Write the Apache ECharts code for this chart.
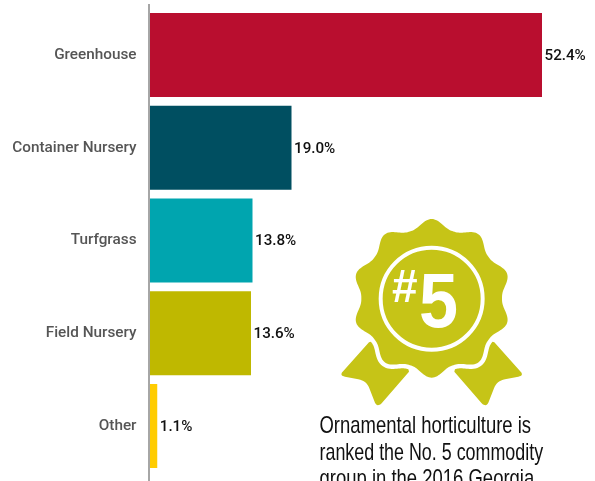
<!DOCTYPE html>
<html><head><meta charset="utf-8">
<style>html,body{margin:0;padding:0;background:#fff}#c{width:595px;height:481px}</style>
<script src="https://cdn.jsdelivr.net/npm/echarts@6/dist/echarts.min.js"></script>
</head><body><div id="c"></div>
<script>
const categories = ['Greenhouse','Container Nursery','Turfgrass','Field Nursery','Other'];
const shares = [52.4,19.0,13.8,13.6,1.1];
const barColors = ['#B90E2F','#004F61','#00A5AF','#BFB800','#FFCC00'];
const calloutLines = ['Ornamental horticulture is','ranked the No. 5 commodity','group in the 2016 Georgia'];
const calloutSqueeze = [0.77,0.745,0.77];
const badgeColor = '#C6C417';
const sans = '"Liberation Sans",sans-serif';

function badgePoints(){
  const pts=[];
  for(let i=0;i<360;i++){
    const t=i*Math.PI/180, r=211+27*Math.pow((1+Math.cos(10*t))/2,1.3);
    pts.push([395+r*Math.sin(t),295-r*Math.cos(t)]);
  }
  return pts;
}
function quad(a,c,b){const o=[];for(let k=0;k<=8;k++){const u=k/8,v=1-u;
  o.push([v*v*a[0]+2*u*v*c[0]+u*u*b[0],v*v*a[1]+2*u*v*c[1]+u*u*b[1]]);}return o;}
const ribbonL=[[207,427],...quad([128,515],[118,527],[135,530]),...quad([175,538],[200,542],[208,565]),
  ...quad([225,608],[232,622],[245,610]),[327,515],[300,400]];
const ribbonR=ribbonL.map(p=>[790-p[0],p[1]]);

const chart = echarts.init(document.getElementById('c'),null,{renderer:'canvas'});
chart.setOption({
  animation:false,
  grid:{left:149,top:8.6,right:1,height:463.75},
  xAxis:{type:'value',min:0,max:445/7.5,show:false},
  yAxis:{type:'category',data:categories,inverse:true,
    axisLine:{show:false},axisTick:{show:false},
    axisLabel:{margin:12.5,fontFamily:'Roboto',fontWeight:500,fontSize:15.3,color:'#555555',padding:[4,0,0,0]}},
  series:[{type:'bar',barWidth:84,
    data:shares.map((v,i)=>({value:v,itemStyle:{color:barColors[i]}})),
    label:{show:true,position:'right',distance:2.5,offset:[0,1],formatter:p=>p.value.toFixed(1)+'%',
      fontFamily:'Roboto',fontWeight:500,fontSize:15.2,color:'#111111'}}],
  graphic:[
    {type:'line',z:10,shape:{x1:149,y1:4,x2:149,y2:481},style:{stroke:'#A6A6A6',lineWidth:2}},
    {type:'group',x:300,y:200,scaleX:1/3,scaleY:1/3,z:5,children:[
      {type:'polygon',shape:{points:ribbonL},style:{fill:badgeColor},z:1},
      {type:'polygon',shape:{points:ribbonR},style:{fill:badgeColor},z:1},
      {type:'polygon',shape:{points:badgePoints()},style:{fill:badgeColor,stroke:'#fff',lineWidth:26},z:2},
      {type:'polygon',shape:{points:badgePoints()},style:{fill:badgeColor},z:3},
      {type:'circle',shape:{cx:395,cy:296,r:153},style:{fill:'none',stroke:'#fff',lineWidth:12},z:4}
    ]},
    {type:'text',z:6,x:392,y:266,style:{text:'#',fontFamily:sans,fontWeight:'bold',fontSize:46,fill:'#fff'}},
    {type:'text',z:6,x:419,y:266,scaleX:0.9,style:{text:'5',fontFamily:sans,fontWeight:'bold',fontSize:78,fill:'#fff'}},
    ...calloutLines.map((t,i)=>({type:'text',z:6,x:319.5,y:414.5+i*26.5,scaleX:calloutSqueeze[i],
      style:{text:t,fontFamily:sans,fontSize:24,fill:'#111111'}}))
  ]
});
</script></body></html>
